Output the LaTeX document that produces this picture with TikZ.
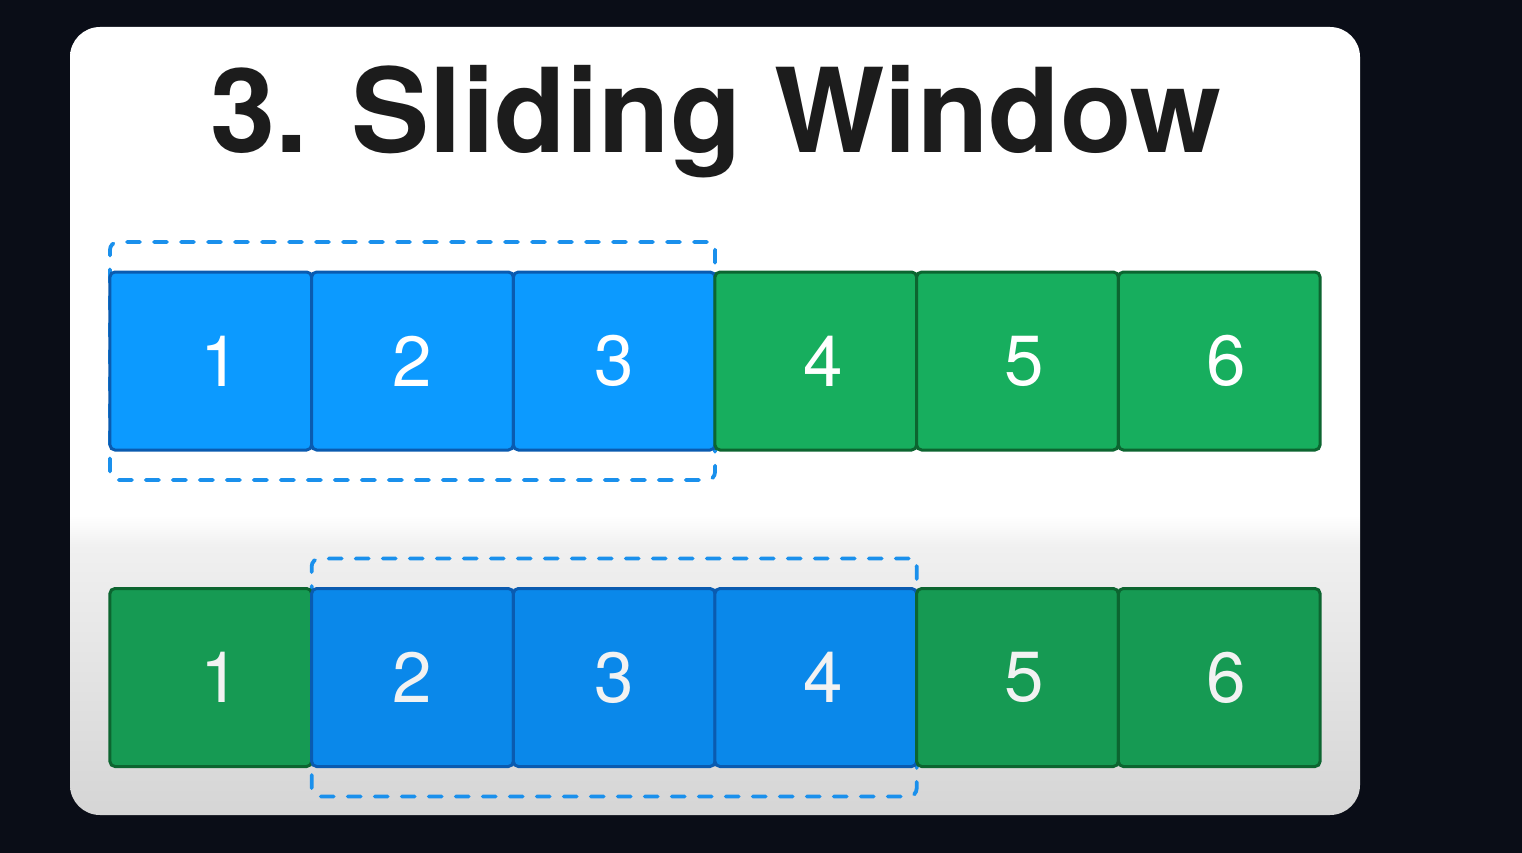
\documentclass[tikz,border=0pt]{standalone}
\usepackage{fontspec}
\setmainfont{TeX Gyre Heros}
\usetikzlibrary{fit}
\definecolor{bgdark}{HTML}{0A0D17}
\definecolor{cardbot}{HTML}{D5D5D5}
\definecolor{cardmid}{HTML}{F0F0F0}
\definecolor{blueA}{HTML}{0C9AFF}
\definecolor{blueB}{HTML}{0A88EA}
\definecolor{blueLine}{HTML}{0A5BB0}
\definecolor{greenA}{HTML}{17AE5E}
\definecolor{greenB}{HTML}{169A53}
\definecolor{greenLine}{HTML}{0C6530}
\definecolor{dashBlue}{HTML}{1A90EC}
\definecolor{titleInk}{HTML}{1C1C1C}
\pgfdeclareverticalshading{cardshade}{100bp}{color(0bp)=(cardbot); color(25bp)=(cardbot); color(42bp)=(cardmid); color(44bp)=(white); color(100bp)=(white)}
\pgfdeclarelayer{back}
\pgfsetlayers{back,main}
\newcommand\dshift[2]{\hspace*{#1pt}#2}
\tikzset{
  cell/.style={rectangle, rounded corners=5pt, line width=3pt, minimum width=201.7pt, minimum height=178pt, inner sep=0pt, outer sep=0pt, text=white, font=\fontsize{71}{84}\selectfont},
  bluecell/.style={cell, fill=blueA, draw=blueLine},
  greencell/.style={cell, fill=greenA, draw=greenLine},
  bluecellB/.style={cell, fill=blueB, draw=blueLine, text=white!90!gray},
  greencellB/.style={cell, fill=greenB, draw=greenLine, text=white!90!gray},
  window/.style={draw=dashBlue, line width=3.8pt, line cap=round, dash pattern=on 13pt off 14pt, rounded corners=8pt, inner xsep=0pt, inner ysep=30pt},
}
\begin{document}
\begin{tikzpicture}[x=1pt,y=1pt]
\begin{pgfonlayer}{back}
\useasboundingbox (0,0) rectangle (1522,-853);
\fill[bgdark] (0,0) rectangle (1522,-853);
\shade[shading=cardshade, rounded corners=30pt] (70,-27) rectangle (1360,-815);
\end{pgfonlayer}
\node[text=titleInk, font=\bfseries\fontsize{117}{130}\selectfont, anchor=base] (title) at (716,-153) {3. Sliding Window};
% top row
\node[bluecell]  (t1) at (210.8,-361) {\dshift{18}{1}};
\node[bluecell]  (t2) at (412.5,-361) {2};
\node[bluecell]  (t3) at (614.2,-361) {3};
\node[greencell] (t4) at (815.8,-361) {\dshift{14}{4}};
\node[greencell] (t5) at (1017.5,-361) {\dshift{14}{5}};
\node[greencell] (t6) at (1219.2,-361) {\dshift{14}{6}};
% bottom row
\node[greencellB] (b1) at (210.8,-677.5) {\dshift{18}{1}};
\node[bluecellB]  (b2) at (412.5,-677.5) {2};
\node[bluecellB]  (b3) at (614.2,-677.5) {3};
\node[bluecellB]  (b4) at (815.8,-677.5) {\dshift{14}{4}};
\node[greencellB] (b5) at (1017.5,-677.5) {\dshift{14}{5}};
\node[greencellB] (b6) at (1219.2,-677.5) {\dshift{14}{6}};
% windows (behind the cells)
\begin{pgfonlayer}{back}
\node[window, fit=(t1)(t3)] (w1) {};
\node[window, fit=(b2)(b4)] (w2) {};
\end{pgfonlayer}
\end{tikzpicture}
\end{document}
